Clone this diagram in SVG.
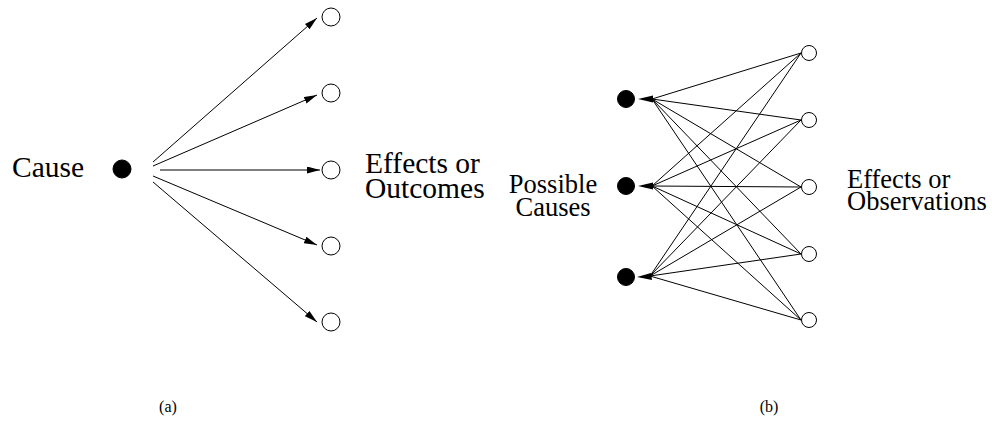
<svg xmlns="http://www.w3.org/2000/svg" width="992" height="432" viewBox="0 0 992 432">
<style>
  .big { font-size: 29.5px; fill: #000; }
  .mid { font-size: 26.5px; fill: #000; }
  .cap { font-size: 16px; fill: #000; }
  .filled { fill: #000; stroke: #000; stroke-width: 1; }
  .empty { fill: #fff; stroke: #000; stroke-width: 1; }
  .edge { stroke: #000; stroke-width: 1; fill: none; }
</style>
<defs>
  <marker id="arr" markerUnits="userSpaceOnUse" markerWidth="14" markerHeight="8" refX="13" refY="3.5" orient="auto">
    <path d="M0,0 L13,3.5 L0,7 z" fill="#000"/>
  </marker>
</defs>
<rect width="992" height="432" fill="#fff"/>

<!-- (a) -->
<g id="cause">
  <text class="big" x="12" y="177" font-family="Liberation Serif, serif">Cause</text>
  <circle class="filled" cx="122" cy="169" r="9"/>
</g>
<g id="outcome1"><circle class="empty" cx="331" cy="17" r="9"/></g>
<g id="outcome2"><circle class="empty" cx="331" cy="93" r="9"/></g>
<g id="outcome3"><circle class="empty" cx="331" cy="170" r="9"/></g>
<g id="outcome4"><circle class="empty" cx="331" cy="246" r="9"/></g>
<g id="outcome5"><circle class="empty" cx="331" cy="322" r="9"/></g>
<g id="label-outcomes" font-family="Liberation Serif, serif">
  <text class="big" x="365" y="173">Effects or</text>
  <text class="big" x="365" y="198">Outcomes</text>
</g>
<g id="connectors-a">
  <line class="edge" x1="153" y1="162" x2="317" y2="18" marker-end="url(#arr)"/>
  <line class="edge" x1="153" y1="166" x2="317" y2="95" marker-end="url(#arr)"/>
  <line class="edge" x1="160" y1="170" x2="320" y2="170" marker-end="url(#arr)"/>
  <line class="edge" x1="153" y1="176" x2="317" y2="245" marker-end="url(#arr)"/>
  <line class="edge" x1="153" y1="182" x2="317" y2="322" marker-end="url(#arr)"/>
</g>
<g id="caption-a" font-family="Liberation Serif, serif"><text class="cap" x="168" y="412" text-anchor="middle">(a)</text></g>

<!-- (b) -->
<g id="label-causes" font-family="Liberation Serif, serif">
  <text class="mid" x="553" y="193" text-anchor="middle">Possible</text>
  <text class="mid" x="553" y="216" text-anchor="middle">Causes</text>
</g>
<g id="cause1"><circle class="filled" cx="626" cy="99" r="8.5"/></g>
<g id="cause2"><circle class="filled" cx="626" cy="186" r="8.5"/></g>
<g id="cause3"><circle class="filled" cx="626" cy="277" r="8.5"/></g>
<g id="obs1"><circle class="empty" cx="809" cy="53" r="7.5"/></g>
<g id="obs2"><circle class="empty" cx="809" cy="120" r="7.5"/></g>
<g id="obs3"><circle class="empty" cx="809" cy="187" r="7.5"/></g>
<g id="obs4"><circle class="empty" cx="809" cy="254" r="7.5"/></g>
<g id="obs5"><circle class="empty" cx="809" cy="320" r="7.5"/></g>
<g id="label-observations" font-family="Liberation Serif, serif">
  <text class="mid" x="847" y="188">Effects or</text>
  <text class="mid" x="847" y="210">Observations</text>
</g>
<g id="connectors-b">
  <line class="edge" x1="801" y1="53" x2="652" y2="99"/>
  <line class="edge" x1="801" y1="120" x2="652" y2="99"/>
  <line class="edge" x1="801" y1="187" x2="652" y2="99"/>
  <line class="edge" x1="801" y1="254" x2="652" y2="99"/>
  <line class="edge" x1="801" y1="320" x2="652" y2="99"/>
  <line class="edge" x1="801" y1="53" x2="652" y2="186"/>
  <line class="edge" x1="801" y1="120" x2="652" y2="186"/>
  <line class="edge" x1="801" y1="187" x2="652" y2="186"/>
  <line class="edge" x1="801" y1="254" x2="652" y2="186"/>
  <line class="edge" x1="801" y1="320" x2="652" y2="186"/>
  <line class="edge" x1="801" y1="53" x2="650" y2="276"/>
  <line class="edge" x1="801" y1="120" x2="650" y2="276"/>
  <line class="edge" x1="801" y1="187" x2="650" y2="276"/>
  <line class="edge" x1="801" y1="254" x2="650" y2="276"/>
  <line class="edge" x1="801" y1="320" x2="650" y2="276"/>
  <path d="M638,99 L653,95.5 L653,102.5 z" fill="#000"/>
  <path d="M638,186 L653,182.5 L653,189.5 z" fill="#000"/>
  <path d="M637,277 L651,273 L652,280 z" fill="#000"/>
</g>
<g id="caption-b" font-family="Liberation Serif, serif"><text class="cap" x="769" y="412" text-anchor="middle">(b)</text></g>
</svg>
